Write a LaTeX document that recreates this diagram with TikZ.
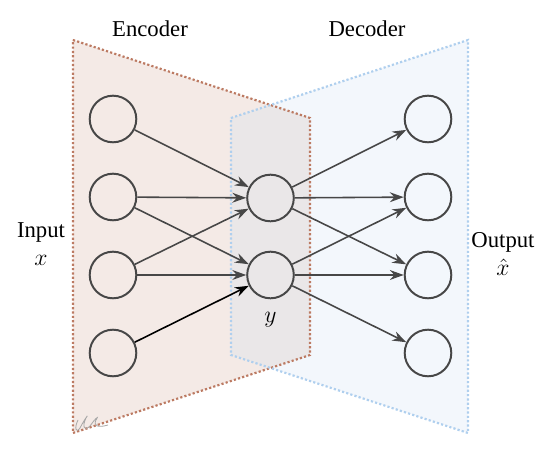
\documentclass[tikz,border=0pt]{standalone}
\usepackage{fontspec}
\setmainfont{Liberation Serif}
\usetikzlibrary{positioning,arrows.meta}
\tikzset{>={Stealth[length=7pt,width=5pt]}}
\definecolor{encfill}{HTML}{F4EAE6}
\definecolor{encline}{HTML}{BC7A62}
\definecolor{decfill}{HTML}{F3F7FC}
\definecolor{decline}{HTML}{AFCFEE}
\definecolor{midfill}{HTML}{EAE7E8}
\definecolor{neuron}{HTML}{474747}
\tikzset{
  unit/.style={circle,draw=neuron,line width=1pt,minimum size=0.83cm,inner sep=0pt},
  link/.style={->,draw=neuron,line width=0.8pt},
  border/.style={line width=1.1pt,dash pattern=on 1.1pt off 1.1pt},
  tag/.style={font=\fontsize{11.5}{14}\selectfont,align=center},
}

\begin{document}
\begin{tikzpicture}[x=0.0178cm,y=-0.0178cm]
\useasboundingbox (0,0) rectangle (552,450);
% encoder / decoder areas
\coordinate (E1) at (73,40);
\coordinate (E2) at (310,118);
\coordinate (E3) at (310,355);
\coordinate (E4) at (73,433);
\coordinate (D1) at (231,118);
\coordinate (D2) at (468,40);
\coordinate (D3) at (468,433);
\coordinate (D4) at (231,355);
\fill[encfill] (E1) -- (E2) -- (E3) -- (E4) -- cycle;
\fill[decfill] (D1) -- (D2) -- (D3) -- (D4) -- cycle;
\fill[midfill] (D1) -- (270.5,105) -- (E2) -- (E3) -- (270.5,368) -- (D4) -- cycle;
\draw[border,encline] (E1) -- (E2) -- (E3) -- (E4) -- cycle;
\draw[border,decline] (D1) -- (D2) -- (D3) -- (D4) -- cycle;
\draw[gray!70,line width=0.4pt] (78,420) .. controls (74,428) and (76,434) .. (80,428)
  .. controls (84,420) and (90,412) .. (86,418) .. controls (82,426) and (84,432) .. (90,426)
  .. controls (94,420) and (100,414) .. (96,420) .. controls (93,426) and (98,428) .. (108,425);

% units
\node[unit] (in1) at (113,119) {};
\node[unit] (in2) at (113,197) {};
\node[unit] (in3) at (113,275) {};
\node[unit] (in4) at (113,353) {};
\node[unit] (h1) at (270.5,198) {};
\node[unit] (h2) at (270.5,275) {};
\node[unit] (out1) at (428,119) {};
\node[unit] (out2) at (428,197) {};
\node[unit] (out3) at (428,275) {};
\node[unit] (out4) at (428,353) {};

% links
\draw[link] (in1) -- (h1);
\draw[link] (in2) -- (h1);
\draw[link] (in2) -- (h2);
\draw[link] (in3) -- (h1);
\draw[link] (in3) -- (h2);
\draw[link,draw=black] (in4) -- (h2);
\draw[link] (h1) -- (out1);
\draw[link] (h1) -- (out2);
\draw[link] (h1) -- (out3);
\draw[link] (h2) -- (out2);
\draw[link] (h2) -- (out3);
\draw[link] (h2) -- (out4);

% labels
\node[tag] (enc) at (150,29) {Encoder};
\node[tag] (dec) at (367,29) {Decoder};
\node[tag] (inp) at (41,244) {Input\\$x$};
\node[tag] (outp) at (503,254) {Output\\$\hat{x}$};
\node[tag] (code) [below=0.1cm of h2] {$y$};
\end{tikzpicture}
\end{document}
